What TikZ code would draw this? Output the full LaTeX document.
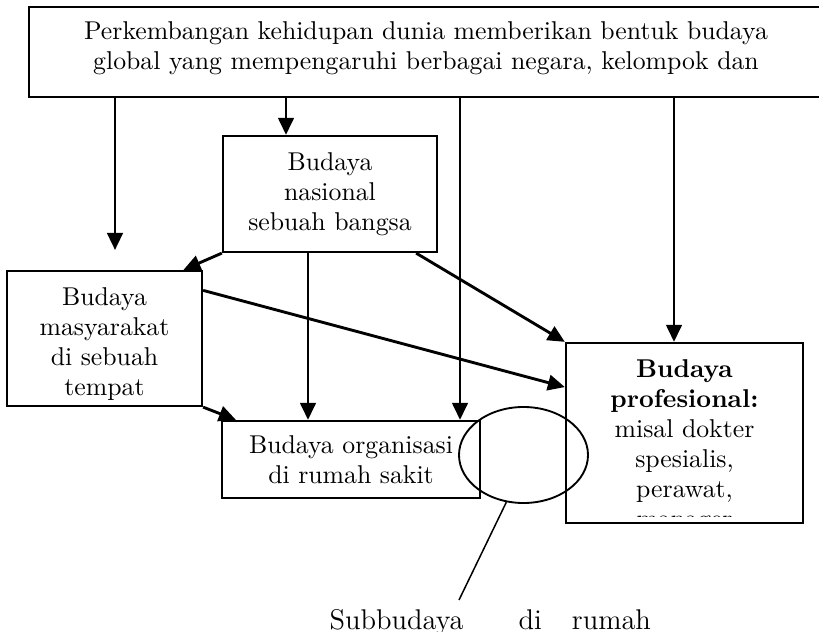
\documentclass[tikz,border=0pt]{standalone}
\usetikzlibrary{arrows.meta, shapes.geometric}

\begin{document}
\begin{tikzpicture}[x=0.4pt, y=-0.4pt,
        font=\fontsize{10.3}{12}\selectfont,
        box/.style={rectangle, draw=black, line width=0.9pt, align=center, inner sep=0pt},
        arr/.style={-{Triangle[length=6.8pt,width=6.2pt]}, line width=1.15pt, black},
        ring/.style={ellipse, draw=black, line width=0.75pt, inner sep=0pt,
                     minimum width=51.6pt, minimum height=38.4pt},
        txt/.style={align=center, inner sep=0pt}]
      \useasboundingbox (0,0) rectangle (819,632);
      \node[box, minimum width=317.6pt, minimum height=36pt] (glob) at (426,52) {};
      \node[txt] (globtxt) at (426,48)
        {Perkembangan kehidupan dunia memberikan bentuk budaya\\
         global yang mempengaruhi berbagai negara, kelompok dan};
      \node[box, minimum width=85.6pt, minimum height=46.4pt] (nas) at (330,194)
        {Budaya\\ nasional\\ sebuah bangsa};
      \node[box, minimum width=78pt, minimum height=54pt] (masy) at (104.5,338.5) {};
      \node[txt] (masytxt) at (104.5,344)
        {Budaya\\ masyarakat\\ di sebuah\\ tempat};
      \node[box, minimum width=103.2pt, minimum height=30.8pt] (org) at (351,459.5)
        {Budaya organisasi\\ di rumah sakit};
      \node[box, minimum width=94.8pt, minimum height=72pt] (prof) at (684.5,433) {};
      \begin{scope}
        \clip (prof.north west) rectangle ([yshift=3pt]prof.south east);
        \node[txt, anchor=north] (proftxt) at ([yshift=-6.8pt]prof.north)
          {\textbf{Budaya}\\ \textbf{profesional:}\\ misal dokter\\ spesialis,\\ perawat,\\ manager};
      \end{scope}
      \node[ring] (sub) at (523.5,455) {};
      \node[txt, anchor=base west, font=\fontsize{11.4}{13.7}\selectfont] (note) at (329,629)
        {Subbudaya\hspace{22pt}di\hspace{12pt}rumah};
      \coordinate (c1) at (115,250);
      \coordinate (c2) at (286,0);
      \coordinate (c3) at (460,0);
      \coordinate (c4) at (674,0);
      \coordinate (c5) at (308,0);
      \coordinate (tip) at (459,600);
      \draw[arr] (glob.south -| c1) -- (c1);
      \draw[arr] (glob.south -| c2) -- (nas.north -| c2);
      \draw[arr] (glob.south -| c3) -- (org.north -| c3);
      \draw[arr] (glob.south -| c4) -- (prof.north -| c4);
      \draw[arr] (nas.south west) -- (masy.41);
      \draw[arr] (nas.south -| c5) -- (org.north -| c5);
      \draw[arr] ([xshift=-8.8pt]nas.south east) -- (prof.north west);
      \draw[arr] (masy.26) -- (prof.159);
      \draw[arr] (masy.south east) -- (org.161);
      \draw[line width=0.6pt] (sub.250) -- (tip);
    \end{tikzpicture}
\end{document}
